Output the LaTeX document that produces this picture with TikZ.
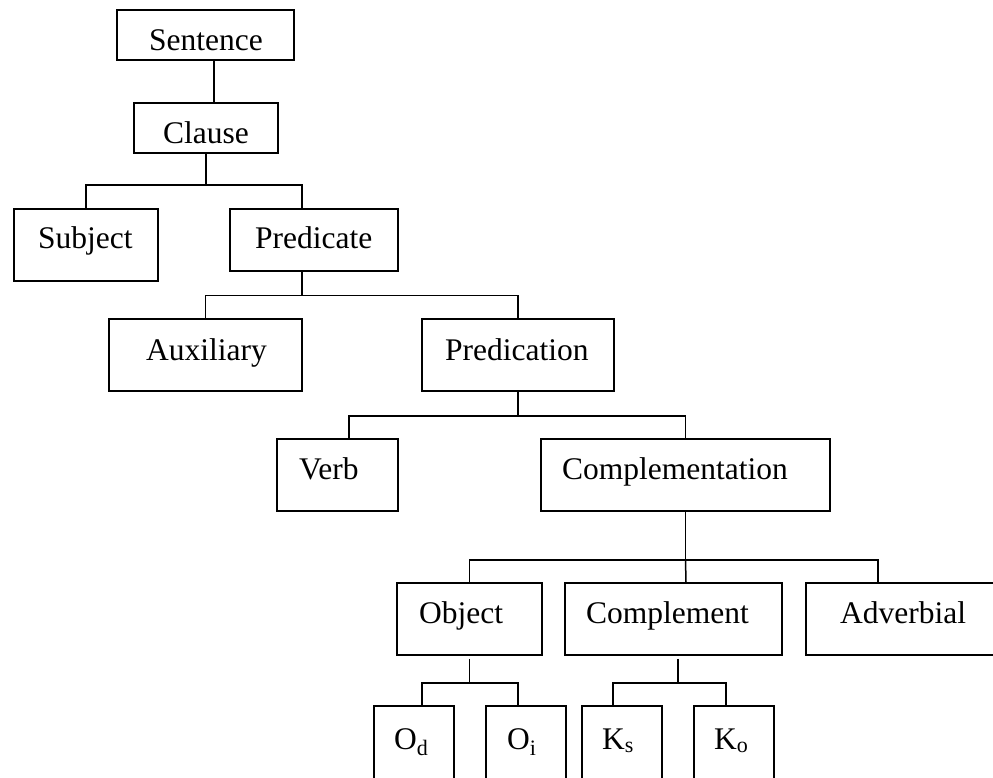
\documentclass[tikz,border=0pt]{standalone}
\usepackage{fontspec}
\setmainfont{Liberation Serif}
\begin{document}
\begin{tikzpicture}[x=1pt,y=-1pt,
  bx/.style={draw, line width=1.5pt, rectangle, inner sep=0pt},
  txt/.style={anchor=base west, inner sep=0pt, font=\fontsize{31.5}{36}\selectfont},
  conn/.style={line width=1.5pt}]
\useasboundingbox (0,0) rectangle (993,777);
\clip (0,0) rectangle (993,777);
% boxes
\node[bx, minimum width=177, minimum height=50] (sent) at (205.5,35) {};
\node[bx, minimum width=144, minimum height=50] (clause) at (206,128) {};
\node[bx, minimum width=144, minimum height=72] (subj) at (86,245) {};
\node[bx, minimum width=168, minimum height=62] (pred) at (314,240) {};
\node[bx, minimum width=193, minimum height=72] (aux) at (205.5,355) {};
\node[bx, minimum width=192, minimum height=72] (predn) at (518,355) {};
\node[bx, minimum width=121, minimum height=72] (verb) at (337.5,475) {};
\node[bx, minimum width=289, minimum height=72] (compl) at (685.5,475) {};
\node[bx, minimum width=145, minimum height=72] (obj) at (469.5,619) {};
\node[bx, minimum width=217, minimum height=72] (cmpl) at (673.5,619) {};
\node[bx, minimum width=194, minimum height=72] (adv) at (903,619) {};
\node[bx, minimum width=80, minimum height=80] (od) at (414,746) {};
\node[bx, minimum width=80, minimum height=80] (oi) at (526,746) {};
\node[bx, minimum width=80, minimum height=80] (ks) at (622,746) {};
\node[bx, minimum width=80, minimum height=80] (ko) at (734,746) {};
% texts
\node[txt] (tsent) at (149,50) {Sentence};
\node[txt] (tclause) at (163,143) {Clause};
\node[txt] (tsubj) at (38,248) {Subject};
\node[txt] (tpred) at (255,248) {Predicate};
\node[txt] (taux) at (146,360) {Auxiliary};
\node[txt] (tpredn) at (445,360) {Predication};
\node[txt] (tverb) at (299,479) {Verb};
\node[txt] (tcompl) at (562,479) {Complementation};
\node[txt] (tobj) at (419,623) {Object};
\node[txt] (tcmpl) at (586,623) {Complement};
\node[txt] (tadv) at (840,623) {Adverbial};
\node[txt] (tod) at (394,749) {O\textsubscript{d}};
\node[txt] (toi) at (507,749) {O\textsubscript{i}};
\node[txt] (tks) at (602,749) {K\textsubscript{s}};
\node[txt] (tko) at (714,749) {K\textsubscript{o}};
% connectors
\draw[conn] ([xshift=8.5pt]sent.south) -- ([xshift=8.5pt]sent.south |- clause.north);
\draw[conn] (clause.south) -- ++(0,31) coordinate (j1);
\draw[conn] (subj.north) |- (j1) -| ([xshift=-12pt]pred.north);
\draw[conn] ([xshift=-12pt]pred.south) -- ++(0,23.5) coordinate (j2);
\draw[conn] (aux.north) |- (j2) -| (predn.north);
\draw[conn] (predn.south) -- ++(0,24) coordinate (j3);
\draw[conn] ([xshift=11.5pt]verb.north) |- (j3) -| (compl.north);
\draw[conn] (compl.south) -- ++(0,48) coordinate (j4);
\draw[conn] (obj.north) |- (j4) -| ([xshift=-25pt]adv.north);
\draw[conn] (j4) -- ([xshift=12.5pt]cmpl.north);
\draw[conn] ([yshift=-3pt]obj.south) -- ++(0,24) coordinate (j5);
\draw[conn] ([xshift=8pt]od.north) |- (j5) -| ([xshift=-8pt]oi.north);
\draw[conn] ([xshift=4.5pt,yshift=-3pt]cmpl.south) -- ++(0,24) coordinate (j6);
\draw[conn] ([xshift=-9pt]ks.north) |- (j6) -| ([xshift=-8pt]ko.north);
\end{tikzpicture}
\end{document}
